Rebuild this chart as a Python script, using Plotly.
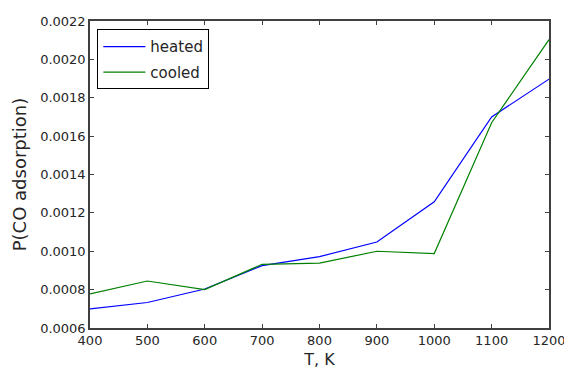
import plotly.graph_objects as go

temps = [400, 500, 600, 700, 800, 900, 1000, 1100, 1200]
heated = [0.000700, 0.000733, 0.000803, 0.000925, 0.000972, 0.001048, 0.001258, 0.001700, 0.001897]
cooled = [0.000778, 0.000845, 0.000800, 0.000932, 0.000938, 0.001000, 0.000988, 0.001670, 0.002103]

x_ticks = [400, 500, 600, 700, 800, 900, 1000, 1100, 1200]
y_ticks = [0.0006, 0.0008, 0.0010, 0.0012, 0.0014, 0.0016, 0.0018, 0.0020, 0.0022]
y_tick_labels = ["0.0006", "0.0008", "0.0010", "0.0012", "0.0014", "0.0016", "0.0018", "0.0020", "0.0022"]

fig = go.Figure()
fig.add_trace(go.Scatter(x=temps, y=heated, mode="lines", name="heated", legendgroup="h",
                         line=dict(color="#0000ff", width=1.2)))
fig.add_trace(go.Scatter(x=temps, y=cooled, mode="lines", name="cooled", legendgroup="c",
                         line=dict(color="#008000", width=1.2)))

font = dict(family="DejaVu Sans", size=13, color="#262626")
axis_common = dict(showgrid=False, zeroline=False, showline=True, linecolor="#404040",
                   linewidth=1.5, mirror="ticks", ticks="inside", ticklen=4,
                   tickcolor="#404040", tickwidth=1, tickfont=font, automargin=False)

fig.update_layout(
    width=564, height=369,
    margin=dict(l=90, r=15, t=21, b=41),
    paper_bgcolor="white", plot_bgcolor="white",
    font=font,
    showlegend=True,
    legend=dict(x=0.016, y=0.973, xanchor="left", yanchor="top",
                bgcolor="white", bordercolor="#000000", borderwidth=1,
                font=dict(family="DejaVu Sans", size=15, color="#262626"),
                itemwidth=42, tracegroupgap=3),
    xaxis=dict(range=[400, 1200], tickvals=x_ticks, ticktext=[str(v) for v in x_ticks],
               ticklabeloverflow="allow",
               title=dict(text="T, K", font=dict(family="DejaVu Sans", size=16, color="#262626"), standoff=7),
               **axis_common),
    yaxis=dict(range=[0.0006, 0.0022], tickvals=y_ticks, ticktext=y_tick_labels,
               title=dict(text="P(CO adsorption)", font=dict(family="DejaVu Sans", size=18, color="#262626"), standoff=9),
               **axis_common),
)

# Remove the default page margin so the figure fills the 564x369 window exactly.
fig.write_html("out.html",
               config={"displayModeBar": False},
               post_script="document.body.style.margin='0';document.body.style.padding='0';document.body.style.overflow='hidden';")
